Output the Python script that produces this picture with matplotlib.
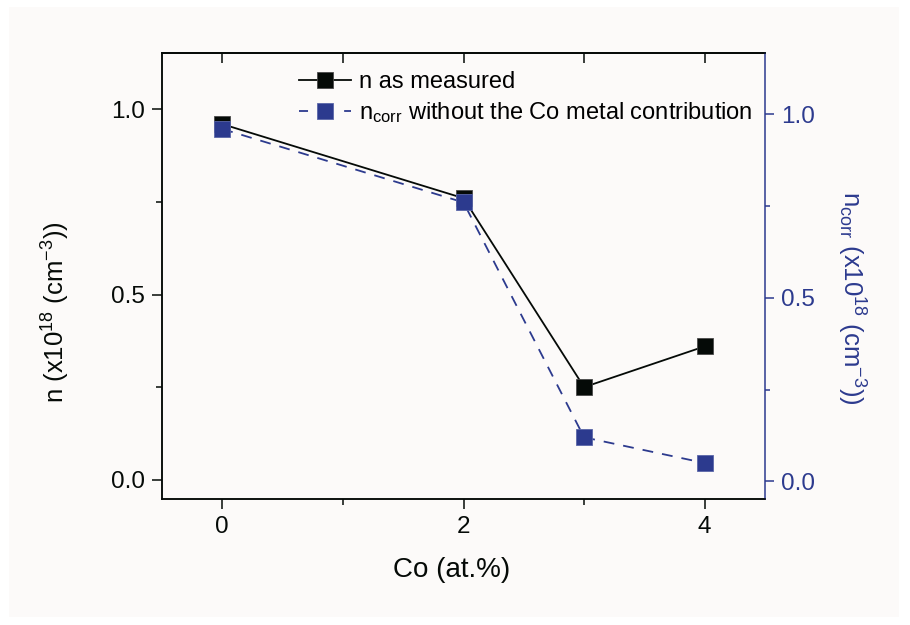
import matplotlib
matplotlib.use("Agg")
import matplotlib.pyplot as plt
from matplotlib.patches import Rectangle
from matplotlib.lines import Line2D

plt.rcParams['font.family'] = ['Liberation Sans', 'DejaVu Sans']
plt.rcParams['mathtext.fontset'] = 'custom'
plt.rcParams['mathtext.rm'] = 'Liberation Sans'
plt.rcParams['mathtext.it'] = 'Liberation Sans'

# Data
co_at = [0, 2, 3, 4]
n_measured = [0.96, 0.76, 0.25, 0.36]
n_corr = [0.96, 0.76, 0.12, 0.05]

x_major = [0, 2, 4]
x_minor = [1, 3]
y_major = [0.0, 0.5, 1.0]
y_major_labels = ['0.0', '0.5', '1.0']
y_minor = [0.25, 0.75]

BLACK = '#050a07'
BLUE = '#2c3a8e'
BG = '#fcfaf9'

W, H = 910, 625
fig = plt.figure(figsize=(W / 100, H / 100), dpi=100, facecolor='white')
fig.patches.append(Rectangle((9 / W, 1 - 617 / H), 890 / W, 610 / H,
                             transform=fig.transFigure, facecolor=BG,
                             edgecolor='none', zorder=-10))

ax = fig.add_axes([162 / W, 1 - 499 / H, 603 / W, 446 / H])
ax.set_facecolor('none')
ax2 = ax.twinx()
ax2.set_facecolor('none')

# measured carrier density (left axis)
ax.plot(co_at, n_measured, color=BLACK, lw=1.3, marker='s', ms=12,
        mfc=BLACK, mec='#4a4a4a', mew=0.6, zorder=3)
# corrected carrier density (right axis)
ax2.plot(co_at, n_corr, color=BLUE, lw=1.3, ls=(0, (6, 5)), marker='s',
         ms=12, mfc=BLUE, mec='#5a66a8', mew=0.6, zorder=3)

ax.set_xlim(-0.5, 4.5)
ax.set_ylim(-0.052, 1.152)
ax2.set_ylim(-0.048, 1.167)

ax.set_xticks(x_major)
ax.set_xticklabels([str(v) for v in x_major])
ax.set_xticks(x_minor, minor=True)
ax.set_yticks(y_major)
ax.set_yticklabels(y_major_labels)
ax.set_yticks(y_minor, minor=True)
ax2.set_yticks(y_major)
ax2.set_yticklabels(y_major_labels)
ax2.set_yticks(y_minor, minor=True)

for a in (ax, ax2):
    for s in a.spines.values():
        s.set_linewidth(1.1)
        s.set_color(BLACK)
ax2.spines['right'].set_color(BLUE)
ax.spines['right'].set_visible(False)

ax.tick_params(axis='both', which='major', direction='out', length=7, width=1.1,
               labelsize=17.5, colors=BLACK, pad=5)
ax.tick_params(axis='both', which='minor', direction='out', length=4, width=1.1,
               colors=BLACK)
ax2.tick_params(axis='y', which='major', direction='out', length=6.5, width=1.1,
                labelsize=17.5, colors=BLUE, pad=5)
ax2.tick_params(axis='y', which='minor', direction='out', length=3.8, width=1.1,
                colors=BLUE)

top = ax.secondary_xaxis('top')
top.set_xticks(x_major + x_minor)
top.tick_params(direction='in', length=7.5, width=1.1, labeltop=False,
                colors=BLACK)
top.spines['top'].set_linewidth(1.1)

ax.set_xlabel('Co (at.%)', fontsize=20, color=BLACK)
ax.xaxis.set_label_coords(0.481, -0.13)
ax.set_ylabel(r'n (x10$^{18}$ (cm$^{-3}$))', fontsize=18.5, color=BLACK)
ax.yaxis.set_label_coords(-0.15, 0.42)
ax2.set_ylabel(r'n$_{corr}$ (x10$^{18}$ (cm$^{-3}$))', fontsize=18.5,
               color=BLUE, rotation=270, va='center')
ax2.yaxis.set_label_coords(1.143, 0.45)

handles = [
    Line2D([], [], color=BLACK, lw=1.3, marker='s', ms=12, mfc=BLACK,
           mec='#4a4a4a', mew=0.6),
    Line2D([], [], color=BLUE, lw=1.3, ls=(0, (5, 7.5)), marker='s', ms=12,
           mfc=BLUE, mec='#5a66a8', mew=0.6),
]
labels = ['n as measured', r'n$_{corr}$ without the Co metal contribution']
leg = ax2.legend(handles, labels, loc='upper left',
                 bbox_to_anchor=(299 / W, 1 - 71 / H),
                 bbox_transform=fig.transFigure, frameon=False,
                 fontsize=17, handlelength=2.2, handletextpad=0.35,
                 labelspacing=0.3, borderpad=0, borderaxespad=0)

fig.savefig('out.png', dpi=100, facecolor='white')
